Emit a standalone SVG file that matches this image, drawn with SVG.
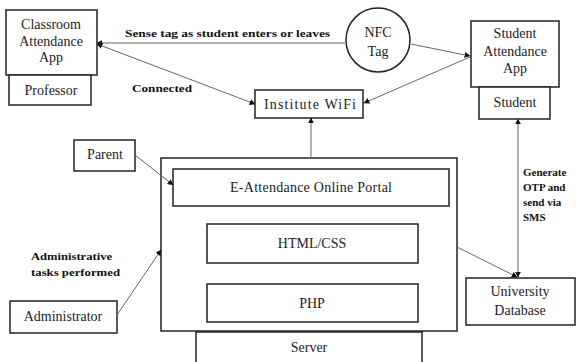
<svg xmlns="http://www.w3.org/2000/svg" width="576" height="362" viewBox="0 0 576 362">
  <style>
    .box { fill: #fff; stroke: #222; stroke-width: 1.5; }
    .lbl { font-family: 'Liberation Serif', 'DejaVu Serif', serif; font-size: 14px; fill: #222; text-anchor: middle; }
    .note { font-family: 'Liberation Serif', 'DejaVu Serif', serif; font-size: 11px; font-weight: bold; fill: #111; }
    .wire { fill: none; stroke: #666; stroke-width: 1; }
  </style>
  <defs>
    <marker id="tip" viewBox="0 0 10 10" refX="9" refY="5" markerWidth="6" markerHeight="6" markerUnits="userSpaceOnUse" orient="auto-start-reverse">
      <path d="M0,0 L10,5 L0,10 z" fill="#111"/>
    </marker>
  </defs>
  <rect width="576" height="362" fill="#fff"/>

  <g id="classroom-app">
    <rect class="box" x="6" y="10" width="91" height="65"/>
    <text class="lbl" x="51" y="29">Classroom</text>
    <text class="lbl" x="51" y="46">Attendance</text>
    <text class="lbl" x="51" y="62">App</text>
  </g>
  <g id="professor">
    <rect class="box" x="9" y="75" width="82" height="30"/>
    <text class="lbl" x="51" y="95">Professor</text>
  </g>

  <g id="nfc-tag">
    <circle cx="378" cy="40" r="32" fill="#fff" stroke="#222" stroke-width="1.5"/>
    <text class="lbl" x="378" y="37">NFC</text>
    <text class="lbl" x="378" y="56">Tag</text>
  </g>

  <g id="student-app">
    <rect class="box" x="471" y="21" width="88" height="66"/>
    <text class="lbl" x="515" y="38">Student</text>
    <text class="lbl" x="515" y="56">Attendance</text>
    <text class="lbl" x="515" y="73">App</text>
  </g>
  <g id="student">
    <rect class="box" x="479" y="87" width="71" height="32"/>
    <text class="lbl" x="515" y="107">Student</text>
  </g>

  <g id="institute-wifi">
    <rect class="box" x="255" y="90" width="108" height="28"/>
    <text class="lbl" x="310" y="109" textLength="92" lengthAdjust="spacing">Institute WiFi</text>
  </g>

  <g id="parent">
    <rect class="box" x="74" y="140" width="61" height="31"/>
    <text class="lbl" x="105" y="159">Parent</text>
  </g>

  <g id="administrator">
    <rect class="box" x="10" y="301" width="107" height="32"/>
    <text class="lbl" x="63" y="321">Administrator</text>
  </g>

  <g id="server-host">
    <rect class="box" x="161" y="158" width="296" height="173"/>
  </g>
  <g id="portal">
    <rect class="box" x="173" y="169" width="276" height="37"/>
    <text class="lbl" x="311" y="192" textLength="162" lengthAdjust="spacing">E-Attendance Online Portal</text>
  </g>
  <g id="html-css">
    <rect class="box" x="207" y="224" width="211" height="39"/>
    <text class="lbl" x="312" y="248">HTML/CSS</text>
  </g>
  <g id="php">
    <rect class="box" x="207" y="284" width="211" height="38"/>
    <text class="lbl" x="312" y="308">PHP</text>
  </g>
  <g id="server">
    <rect class="box" x="196" y="332" width="226" height="40"/>
    <text class="lbl" x="309" y="352">Server</text>
  </g>

  <g id="university-db">
    <rect class="box" x="466" y="278" width="109" height="47"/>
    <text class="lbl" x="520" y="296">University</text>
    <text class="lbl" x="520" y="315">Database</text>
  </g>

  <!-- connectors, drawn on top so every arrowhead stays visible -->
  <g id="connectors">
    <line class="wire" x1="345" y1="43" x2="97" y2="43" marker-end="url(#tip)"/>
    <line class="wire" x1="97" y1="44" x2="255" y2="104" marker-start="url(#tip)" marker-end="url(#tip)"/>
    <line class="wire" x1="411" y1="44" x2="470" y2="56" marker-end="url(#tip)"/>
    <line class="wire" x1="470" y1="57" x2="364" y2="103" marker-end="url(#tip)"/>
    <line class="wire" x1="311" y1="158" x2="311" y2="118" marker-end="url(#tip)"/>
    <line class="wire" x1="518" y1="277" x2="518" y2="119" marker-start="url(#tip)" marker-end="url(#tip)"/>
    <line class="wire" x1="457" y1="247" x2="517" y2="277" marker-end="url(#tip)"/>
    <line class="wire" x1="135" y1="155" x2="173" y2="185" marker-end="url(#tip)"/>
    <line class="wire" x1="117" y1="315" x2="161" y2="250" marker-end="url(#tip)"/>
    <text class="note" x="125" y="37" textLength="205" lengthAdjust="spacingAndGlyphs">Sense tag as student enters or leaves</text>
    <text class="note" x="132" y="92" textLength="60" lengthAdjust="spacingAndGlyphs">Connected</text>
    <text class="note" x="31" y="260" textLength="81" lengthAdjust="spacingAndGlyphs">Administrative</text>
    <text class="note" x="31" y="276" textLength="89" lengthAdjust="spacingAndGlyphs">tasks performed</text>
    <text class="note" x="523" y="176">Generate</text>
    <text class="note" x="523" y="191">OTP and</text>
    <text class="note" x="523" y="206">send via</text>
    <text class="note" x="523" y="221">SMS</text>
  </g>
</svg>
